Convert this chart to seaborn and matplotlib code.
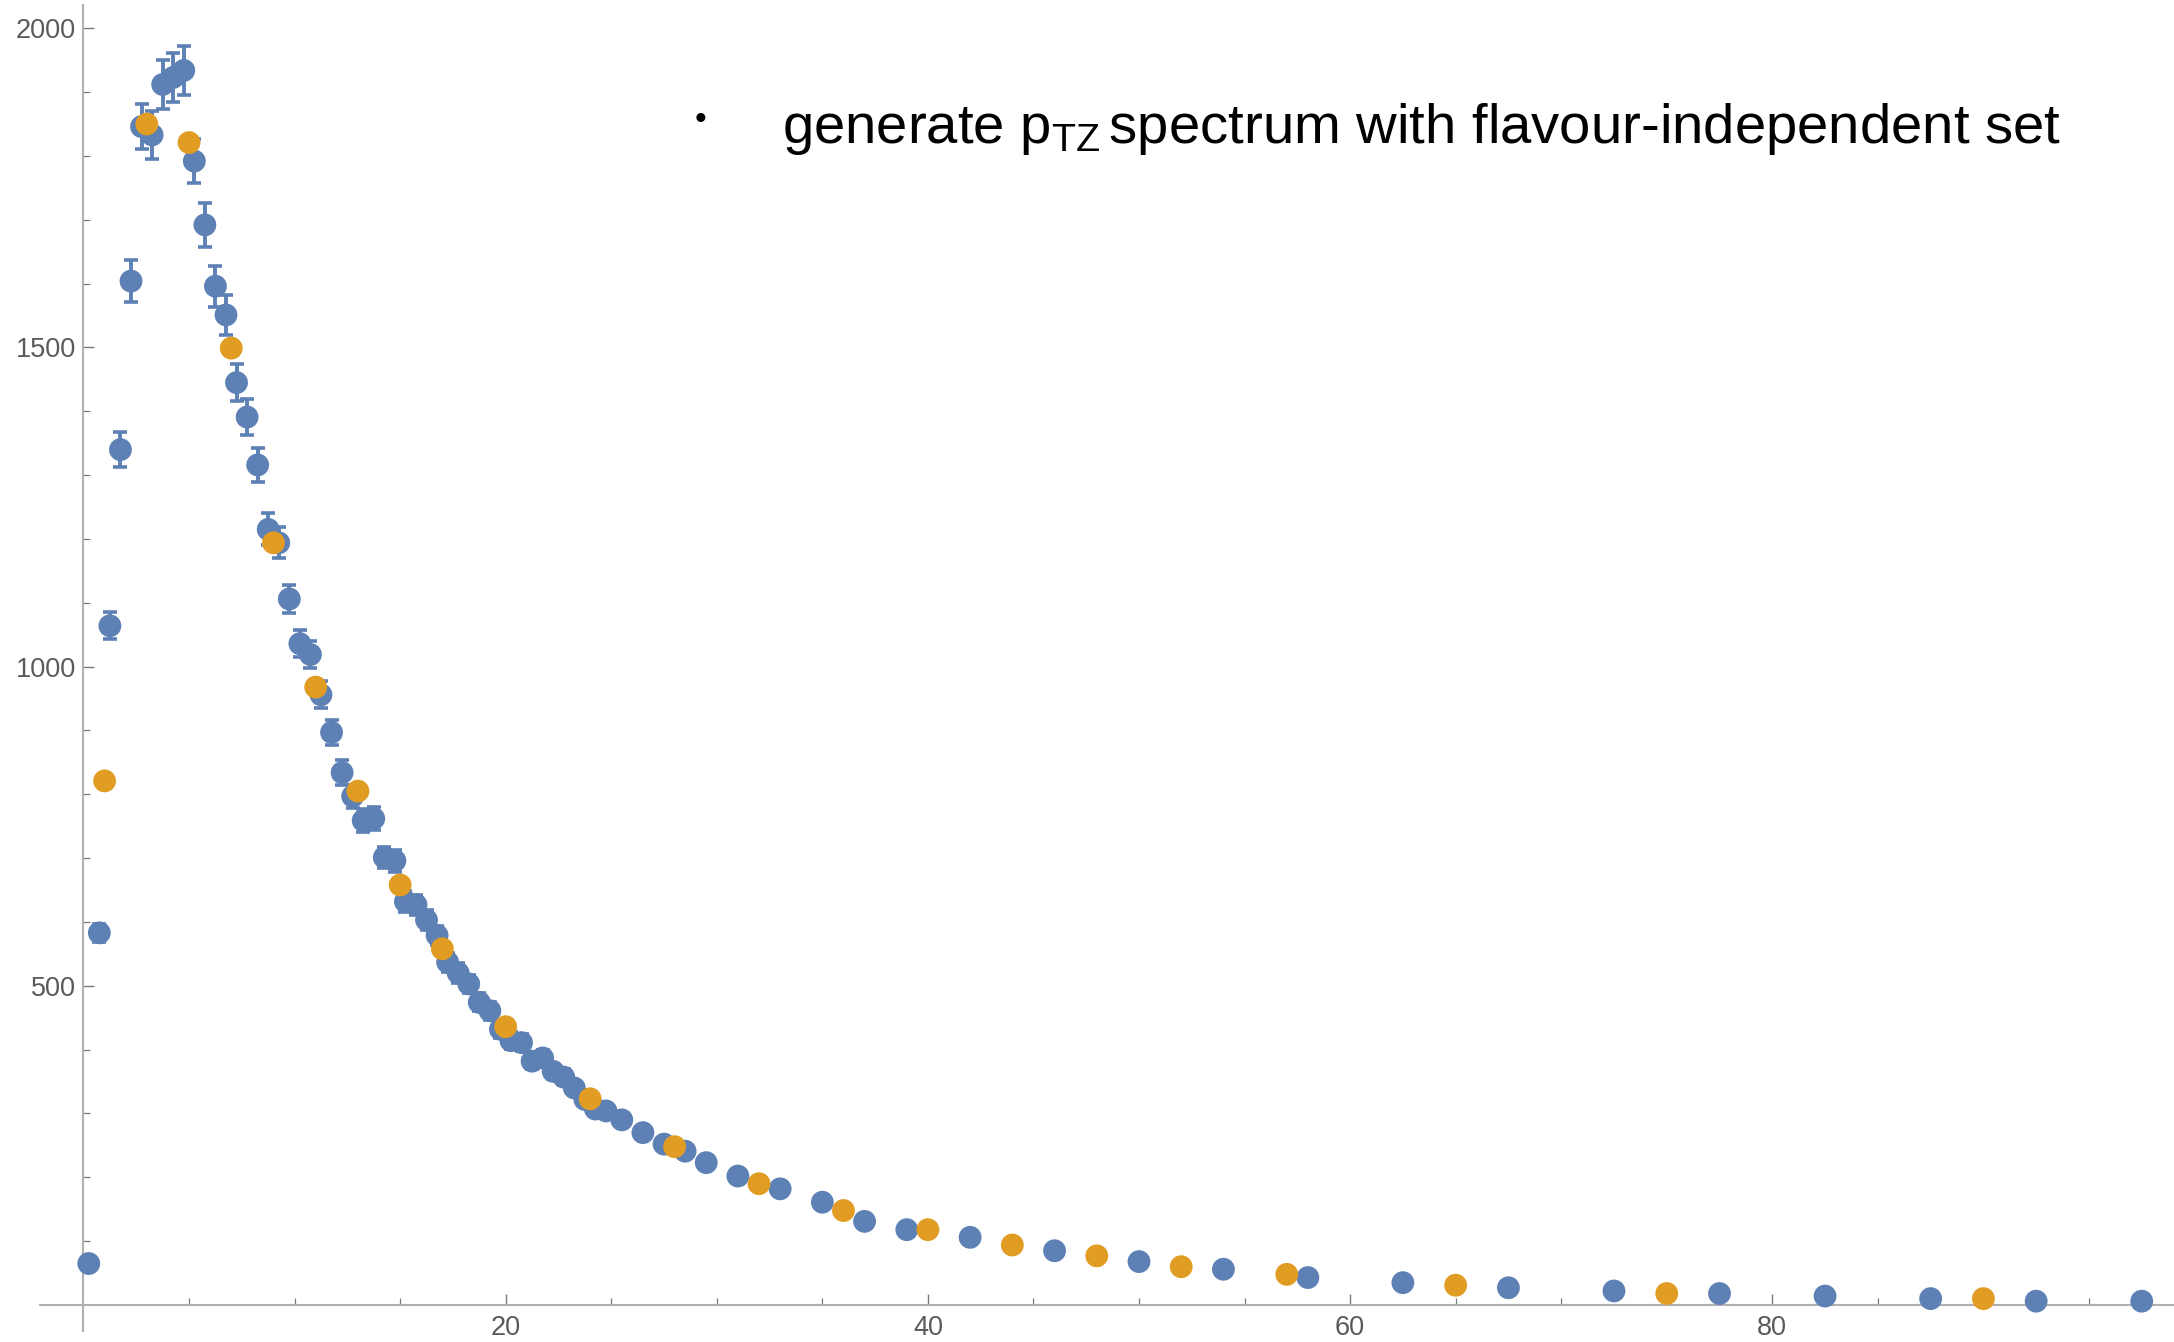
import numpy as np
import pandas as pd
import matplotlib
matplotlib.use("Agg")
import matplotlib.pyplot as plt
from matplotlib.ticker import FixedLocator
import seaborn as sns

# ---------------- data ----------------
blue_x = [0.25, 0.75, 1.25, 1.75, 2.25, 2.75, 3.25, 3.75, 4.25, 4.75,
          5.25, 5.75, 6.25, 6.75, 7.25, 7.75, 8.25, 8.75, 9.25, 9.75,
          10.25, 10.75, 11.25, 11.75, 12.25, 12.75, 13.25, 13.75, 14.25, 14.75,
          15.25, 15.75, 16.25, 16.75, 17.25, 17.75, 18.25, 18.75, 19.25, 19.75,
          20.25, 20.75, 21.25, 21.75, 22.25, 22.75, 23.25, 23.75, 24.25, 24.75,
          25.5, 26.5, 27.5, 28.5, 29.5,
          31, 33, 35, 37, 39,
          42, 46, 50, 54, 58,
          62.5, 67.5, 72.5, 77.5, 82.5, 87.5, 92.5, 97.5]
blue_y = [65, 583, 1064, 1340, 1604, 1846, 1833, 1912, 1923, 1934,
          1792, 1692, 1596, 1551, 1445, 1391, 1316, 1215, 1194, 1106,
          1036, 1019, 956, 897, 834, 797, 759, 762, 701, 696,
          632, 627, 603, 579, 537, 520, 503, 474, 461, 432,
          414, 411, 382, 387, 366, 357, 340, 322, 307, 304,
          290, 270, 252, 241, 223,
          202, 182, 161, 131, 118,
          106, 85, 68, 56, 43,
          35, 27, 22, 18, 14, 10, 6, 6]
blue_err = [8, 14, 21, 28, 33, 35, 37, 38, 38, 38,
            35, 34, 32, 31, 29, 28, 27, 25, 24, 22,
            21, 21, 21, 20, 19, 18, 18, 18, 17, 17,
            16, 16, 16, 15, 15, 15, 14, 14, 14, 13,
            13, 13, 12, 12, 12, 12, 11, 11, 11, 11,
            8, 8, 8, 7, 7,
            5, 5, 5, 4, 4,
            3, 3, 3, 2, 2,
            2, 2, 1, 1, 1, 1, 1, 1]

orange_x = [1, 3, 5, 7, 9, 11, 13, 15, 17, 20, 24, 28, 32, 36, 40, 44, 48, 52, 57, 65, 75, 90]
orange_y = [821, 1850, 1821, 1499, 1194, 968, 805, 658, 558, 436, 323, 248, 190, 148,
            118, 94, 77, 60, 48, 31, 18, 10]

x_major_ticks = [20, 40, 60, 80]
x_minor_ticks = [5, 10, 15, 25, 30, 35, 45, 50, 55, 65, 70, 75, 85, 90, 95]
y_major_ticks = [500, 1000, 1500, 2000]
y_minor_ticks = [100, 200, 300, 400, 600, 700, 800, 900, 1100, 1200, 1300, 1400,
                 1600, 1700, 1800, 1900]

label_text = "generate p$_{\\mathregular{TZ}}\\,$spectrum with flavour-independent set"

BLUE = "#5E81B5"
ORANGE = "#E19C24"

df_blue = pd.DataFrame({"x": blue_x, "y": blue_y, "err": blue_err})
df_orange = pd.DataFrame({"x": orange_x, "y": orange_y})

# ---------------- style ----------------
sns.set_theme(style="white")
plt.rcParams["font.family"] = ["Liberation Sans", "DejaVu Sans"]
plt.rcParams["mathtext.fontset"] = "custom"
plt.rcParams["mathtext.rm"] = "Liberation Sans"
plt.rcParams["mathtext.it"] = "Liberation Sans"

W, H = 2174, 1342
fig = plt.figure(figsize=(W / 100, H / 100), dpi=100)
ax = fig.add_axes([0, 0, 1, 1])
ax.set_facecolor("white")

# pixel calibration of the reference
X0, SX = 83.5, 21.11      # pixel of x=0, pixels per unit
Y0, SY = 1305.0, 0.63835  # pixel (from top) of y=0, pixels per unit
ax.set_xlim(-X0 / SX, (W - X0) / SX)
ax.set_ylim((Y0 - H) / SY, Y0 / SY)

# error bars
ax.errorbar(df_blue["x"], df_blue["y"], yerr=df_blue["err"], fmt="none",
            ecolor=BLUE, elinewidth=2.8, capsize=4.8, capthick=2.6, zorder=2)

sns.scatterplot(data=df_blue, x="x", y="y", color=BLUE, s=270, edgecolor="none",
                linewidth=0, zorder=3, ax=ax, legend=False)
sns.scatterplot(data=df_orange, x="x", y="y", color=ORANGE, s=270, edgecolor="none",
                linewidth=0, zorder=4, ax=ax, legend=False)

ax.set_xlabel("")
ax.set_ylabel("")

# axes through the origin
for s in ["top", "right"]:
    ax.spines[s].set_visible(False)
for s in ["left", "bottom"]:
    ax.spines[s].set_visible(True)
    ax.spines[s].set_color("#b0b0b0")
    ax.spines[s].set_linewidth(1.5)
    ax.spines[s].set_position(("data", 0))
ax.spines["left"].set_bounds(-41, 2037)
ax.spines["bottom"].set_bounds(-2.06, (W - X0) / SX)

ax.xaxis.set_major_locator(FixedLocator(x_major_ticks))
ax.xaxis.set_minor_locator(FixedLocator(x_minor_ticks))
ax.yaxis.set_major_locator(FixedLocator(y_major_ticks))
ax.yaxis.set_minor_locator(FixedLocator(y_minor_ticks))
ax.tick_params(which="major", direction="in", length=7.9, width=1.0, color="#7a7a7a",
               labelsize=19.5, labelcolor="#5a5a5a", left=True, bottom=True)
ax.tick_params(which="minor", direction="in", length=5.0, width=0.9, color="#7a7a7a",
               left=True, bottom=True)
ax.tick_params(axis="y", which="major", pad=5.5)
ax.tick_params(axis="x", which="major", pad=7)
ax.grid(False)

# annotation text
fig.text(700 / W, 1 - 121 / H, "\u2022", fontsize=24, color="black",
         ha="center", va="center")
fig.text(782 / W, 1 - 143 / H, label_text, fontsize=40.5, color="black",
         ha="left", va="baseline")

fig.savefig("out.png", dpi=100, facecolor="white")
